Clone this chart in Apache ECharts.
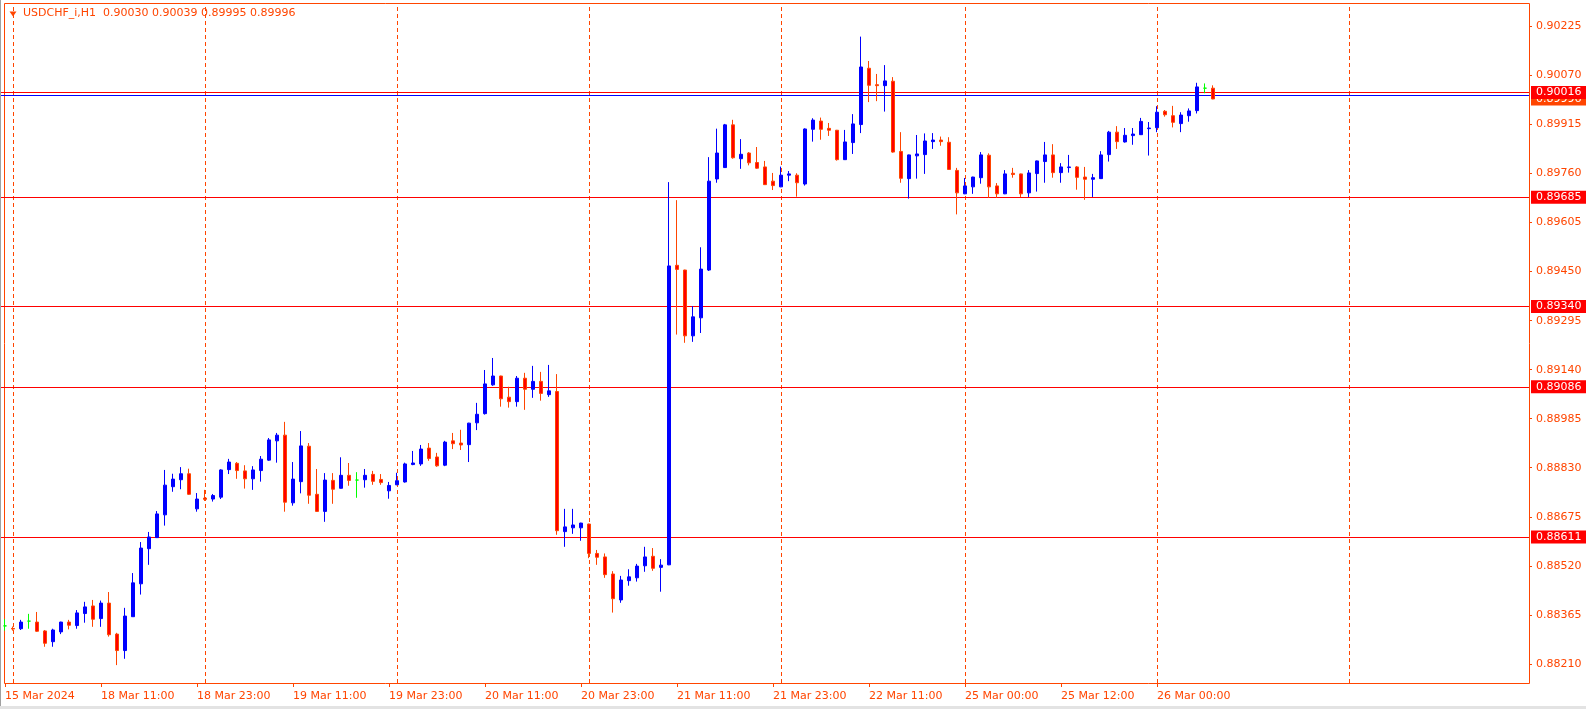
<!DOCTYPE html>
<html><head><meta charset="utf-8">
<script src="https://cdn.jsdelivr.net/npm/echarts@6/dist/echarts.min.js"></script>
<style>html,body{margin:0;padding:0;background:#fff;}#c{width:1586px;height:709px;}</style>
</head><body><div id="c"></div>
<script>
// ---- data ----
const symbolName = 'USDCHF_i,H1';
const sessionDays = ['15 Mar','18 Mar','19 Mar','20 Mar','21 Mar','22 Mar','25 Mar','26 Mar','27 Mar'];
const sessionFirstHour = [22,0,0,0,0,0,0,0,0];
const sessionLastHour  = [22,23,23,23,23,22,23,23,22];
const tickLabels = ['15 Mar 2024','18 Mar 11:00','18 Mar 23:00','19 Mar 11:00','19 Mar 23:00','20 Mar 11:00','20 Mar 23:00','21 Mar 11:00','21 Mar 23:00','22 Mar 11:00','25 Mar 00:00','25 Mar 12:00','26 Mar 00:00'];
const priceTicks = [0.88210,0.88365,0.88520,0.88675,0.88830,0.88985,0.89140,0.89295,0.89450,0.89605,0.89760,0.89915,0.90070,0.90225];
const levels = [0.90016,0.89685,0.89340,0.89086,0.88611];
const askPrice = 0.90007;

const open = [0.88330,0.88322,0.88321,0.88345,0.88342,0.88314,0.88280,0.88311,0.88342,0.88331,
0.88369,0.88393,0.88353,0.88402,0.88304,0.88252,0.88359,0.88463,0.88574,0.88609,
0.88681,0.88770,0.88792,0.88811,0.88700,0.88734,0.88731,0.88737,0.88824,0.88844,
0.88820,0.88795,0.88821,0.88854,0.88915,0.88933,0.88719,0.88786,0.88898,0.88746,
0.88692,0.88790,0.88765,0.88806,0.88791,0.88792,0.88809,0.88793,0.88757,0.88776,
0.88785,0.88840,0.88842,0.88892,0.88864,0.88838,0.88915,0.88908,0.88903,0.88972,
0.89001,0.89092,0.89120,0.89053,0.89039,0.89113,0.89078,0.89103,0.89061,0.89071,
0.88628,0.88640,0.88640,0.88652,0.88559,0.88548,0.88494,0.88412,0.88473,0.88482,
0.88520,0.88550,0.88515,0.88523,0.89470,0.89455,0.89247,0.89304,0.89455,0.89743,
0.89779,0.89914,0.89807,0.89825,0.89795,0.89781,0.89736,0.89718,0.89755,0.89755,
0.89727,0.89900,0.89926,0.89903,0.89897,0.89804,0.89858,0.89915,0.90093,0.90041,
0.90038,0.90052,0.89830,0.89744,0.89816,0.89820,0.89861,0.89866,0.89859,0.89770,
0.89696,0.89718,0.89747,0.89818,0.89721,0.89696,0.89761,0.89759,0.89699,0.89760,
0.89798,0.89819,0.89763,0.89779,0.89781,0.89749,0.89742,0.89744,0.89820,0.89891,
0.89860,0.89880,0.89883,0.89902,0.89905,0.89957,0.89943,0.89918,0.89943,0.89959,
0.90030,0.90030];
const high = [0.88351,0.88328,0.88349,0.88368,0.88374,0.88317,0.88321,0.88343,0.88349,0.88380,
0.88406,0.88412,0.88410,0.88437,0.88308,0.88387,0.88497,0.88595,0.88627,0.88693,
0.88823,0.88811,0.88832,0.88827,0.88750,0.88760,0.88747,0.88825,0.88858,0.88848,
0.88838,0.88835,0.88867,0.88924,0.88940,0.88975,0.88848,0.88946,0.88908,0.88826,
0.88813,0.88813,0.88863,0.88845,0.88816,0.88826,0.88820,0.88810,0.88785,0.88814,
0.88846,0.88883,0.88902,0.88908,0.88877,0.88915,0.88940,0.88950,0.88972,0.89035,
0.89139,0.89177,0.89121,0.89086,0.89120,0.89130,0.89152,0.89133,0.89155,0.89126,
0.88700,0.88700,0.88656,0.88653,0.88570,0.88559,0.88503,0.88488,0.88509,0.88526,
0.88580,0.88576,0.88541,0.89733,0.89676,0.89456,0.89341,0.89527,0.89812,0.89902,
0.89917,0.89930,0.89869,0.89828,0.89844,0.89800,0.89762,0.89782,0.89768,0.89761,
0.89903,0.89935,0.89937,0.89920,0.89898,0.89898,0.89948,0.90193,0.90116,0.90075,
0.90103,0.90065,0.89891,0.89820,0.89882,0.89887,0.89888,0.89877,0.89875,0.89778,
0.89746,0.89750,0.89828,0.89824,0.89730,0.89771,0.89778,0.89760,0.89771,0.89801,
0.89860,0.89853,0.89793,0.89819,0.89784,0.89781,0.89759,0.89831,0.89895,0.89910,
0.89904,0.89904,0.89936,0.89923,0.89973,0.89961,0.89974,0.89954,0.89966,0.90047,
0.90045,0.90039];
const low = [0.88315,0.88315,0.88317,0.88321,0.88311,0.88264,0.88264,0.88304,0.88319,0.88321,
0.88340,0.88327,0.88327,0.88296,0.88206,0.88226,0.88359,0.88429,0.88523,0.88608,
0.88647,0.88754,0.88762,0.88744,0.88691,0.88725,0.88723,0.88731,0.88810,0.88795,
0.88764,0.88760,0.88786,0.88852,0.88846,0.88691,0.88710,0.88749,0.88716,0.88691,
0.88659,0.88716,0.88764,0.88773,0.88735,0.88767,0.88776,0.88776,0.88732,0.88775,
0.88783,0.88838,0.88836,0.88852,0.88833,0.88835,0.88889,0.88886,0.88848,0.88949,
0.88998,0.89089,0.89023,0.89020,0.89023,0.89013,0.89051,0.89042,0.89054,0.88618,
0.88580,0.88621,0.88599,0.88544,0.88523,0.88482,0.88372,0.88403,0.88457,0.88470,
0.88501,0.88504,0.88438,0.88522,0.89251,0.89225,0.89228,0.89256,0.89452,0.89731,
0.89778,0.89807,0.89775,0.89786,0.89775,0.89724,0.89708,0.89717,0.89736,0.89687,
0.89722,0.89861,0.89867,0.89879,0.89801,0.89803,0.89822,0.89888,0.89986,0.89989,
0.89956,0.89826,0.89731,0.89681,0.89744,0.89759,0.89838,0.89848,0.89772,0.89631,
0.89695,0.89696,0.89728,0.89683,0.89683,0.89695,0.89747,0.89686,0.89686,0.89703,
0.89731,0.89747,0.89731,0.89763,0.89709,0.89677,0.89686,0.89743,0.89798,0.89838,
0.89858,0.89851,0.89882,0.89817,0.89891,0.89940,0.89906,0.89891,0.89924,0.89950,
0.90014,0.89995];
const close = [0.88330,0.88320,0.88342,0.88345,0.88313,0.88275,0.88317,0.88342,0.88332,0.88371,
0.88390,0.88351,0.88402,0.88302,0.88252,0.88361,0.88466,0.88576,0.88611,0.88684,
0.88775,0.88794,0.88811,0.88746,0.88731,0.88730,0.88742,0.88823,0.88848,0.88821,
0.88795,0.88823,0.88857,0.88918,0.88933,0.88721,0.88794,0.88899,0.88743,0.88692,
0.88791,0.88762,0.88806,0.88790,0.88791,0.88806,0.88787,0.88783,0.88774,0.88789,
0.88842,0.88845,0.88889,0.88859,0.88836,0.88911,0.88906,0.88902,0.88971,0.88999,
0.89095,0.89120,0.89048,0.89039,0.89113,0.89078,0.89103,0.89065,0.89073,0.88631,
0.88643,0.88649,0.88655,0.88559,0.88547,0.88492,0.88416,0.88475,0.88485,0.88519,
0.88548,0.88512,0.88522,0.89468,0.89457,0.89247,0.89307,0.89458,0.89736,0.89825,
0.89914,0.89810,0.89821,0.89794,0.89777,0.89725,0.89722,0.89755,0.89759,0.89731,
0.89901,0.89929,0.89900,0.89897,0.89804,0.89860,0.89917,0.90097,0.90039,0.90038,
0.90053,0.89828,0.89745,0.89819,0.89822,0.89863,0.89866,0.89861,0.89773,0.89699,
0.89721,0.89749,0.89819,0.89718,0.89696,0.89759,0.89757,0.89696,0.89762,0.89800,
0.89819,0.89763,0.89781,0.89781,0.89748,0.89742,0.89747,0.89819,0.89891,0.89861,
0.89881,0.89885,0.89925,0.89904,0.89954,0.89946,0.89922,0.89945,0.89958,0.90034,
0.90030,0.89996];

// ---- build ----
const categories = [];
sessionDays.forEach((d, k) => {
  for (let h = sessionFirstHour[k]; h <= sessionLastHour[k]; h++) {
    categories.push(d + ' ' + String(h).padStart(2, '0') + ':00');
  }
});
const daySeparators = categories.filter(c => c.endsWith(' 00:00'));
const candles = open.map((o, i) => [o, close[i], low[i], high[i]]);
const last = close.length - 1;
const bidPrice = close[last];
const titleText = symbolName + '  ' + [open[last], high[last], low[last], close[last]].map(v => v.toFixed(5)).join(' ');

const FG = '#FF4500';
const FONT = 'DejaVu Sans';
const isTick = i => i % 12 === 0 && i / 12 < tickLabels.length;
const boxLabel = bg => ({
  show: true, position: 'end', distance: 2, formatter: p => Number(p.value).toFixed(5),
  color: '#ffffff', backgroundColor: bg, padding: [1, 8, 1, 5], lineHeight: 11,
  fontFamily: FONT, fontSize: 11, opacity: 1
});

const chart = echarts.init(document.getElementById('c'), null, {renderer: 'canvas'});
chart.setOption({
  animation: false,
  backgroundColor: '#ffffff',
  title: {
    text: titleText, left: 23, top: 8, padding: 0,
    textStyle: {fontFamily: FONT, fontSize: 11, fontWeight: 'normal', color: FG}
  },
  grid: {left: 1, right: 57, top: 3, bottom: 26, show: false},
  xAxis: {
    type: 'category', data: categories, boundaryGap: true,
    axisLine: {show: false},
    axisTick: {show: true, interval: i => isTick(i), alignWithLabel: true, length: 4, lineStyle: {color: FG}},
    axisLabel: {show: true, interval: i => isTick(i), formatter: (v, i) => tickLabels[i / 12],
      align: 'left', color: FG, fontFamily: FONT, fontSize: 11, margin: 8},
    splitLine: {show: false}
  },
  yAxis: {
    type: 'value', position: 'right', min: 0.881494, max: 0.902993,
    axisLine: {show: false},
    axisTick: {show: true, customValues: priceTicks, length: 3, lineStyle: {color: FG}},
    axisLabel: {show: true, customValues: priceTicks, formatter: v => v.toFixed(5),
      color: FG, fontFamily: FONT, fontSize: 11, margin: 7},
    splitLine: {show: false}
  },
  graphic: [
    {type: 'rect', silent: true, z: -1, shape: {x: 4.5, y: 3.5, width: 1525, height: 680},
      style: {fill: null, stroke: FG, lineWidth: 1}},
    {type: 'polygon', silent: true, shape: {points: [[9.5, 11.5], [16.5, 11.5], [13, 16.5]]}, style: {fill: FG}},
    {type: 'rect', silent: true, shape: {x: 0, y: 706, width: 1586, height: 3}, style: {fill: '#e3e3e3'}},
    {type: 'line', silent: true, shape: {x1: 0.5, y1: 0, x2: 0.5, y2: 706}, style: {stroke: '#a0a0a0', lineWidth: 1}}
  ],
  series: [
    {
      type: 'line', data: [], silent: true, z: 1,
      markLine: {
        silent: true, symbol: ['none', 'none'], animation: false, precision: 5, z: 1,
        label: {show: false},
        lineStyle: {color: FG, type: [4, 3], width: 1},
        data: daySeparators.map(c => ({xAxis: c}))
      }
    },
    {
      type: 'line', data: [], silent: true, z: 2,
      markLine: {
        silent: true, symbol: ['none', 'none'], animation: false, precision: 5, z: 2,
        lineStyle: {color: 'rgba(255,255,255,0)', width: 1},
        label: boxLabel(FG),
        data: [{yAxis: bidPrice}]
      }
    },
    {
      type: 'line', data: [], silent: true, z: 3,
      markLine: {
        silent: true, symbol: ['none', 'none'], animation: false, precision: 5, z: 3,
        lineStyle: {color: '#FF0000', type: 'solid', width: 1},
        label: boxLabel('#FF0000'),
        data: [{yAxis: askPrice, lineStyle: {color: '#0000FF'}, label: {show: false}}]
          .concat(levels.map(v => ({yAxis: v})))
      }
    },
    {
      type: 'candlestick', data: candles, z: 10, barWidth: 4,
      itemStyle: {
        color: '#0000FF', color0: '#FF0000',
        borderColor: '#0000FF', borderColor0: FG, borderColorDoji: '#00FF00', borderWidth: 1
      }
    }
  ]
});
</script></body></html>
